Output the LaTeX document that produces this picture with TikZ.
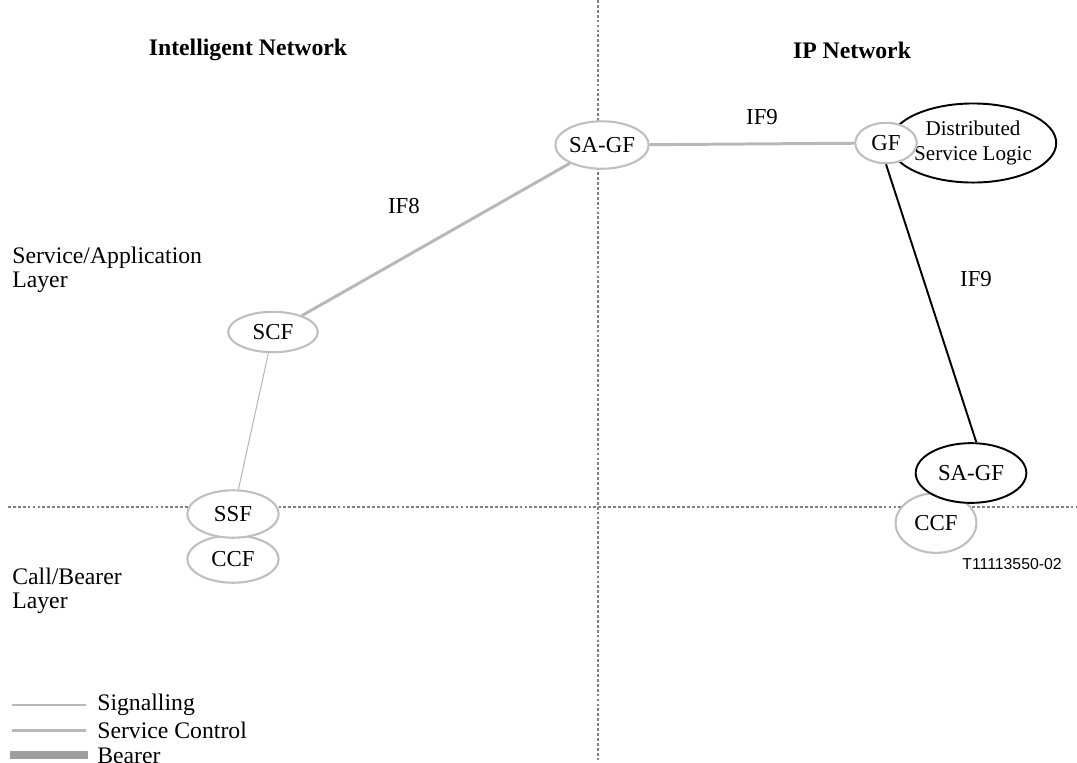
\documentclass[tikz,border=0pt]{standalone}
\usepackage{fontspec}
\setmainfont{Liberation Serif}
\newfontfamily\arialfont{Liberation Sans}
\usetikzlibrary{shapes.geometric}

\tikzset{
  fn/.style={ellipse, draw=black!25, line width=1.2pt, fill=white, inner sep=0pt,
    font=\fontsize{13}{14}\selectfont},
  fnblack/.style={fn, draw=black, line width=1.1pt},
  signalling/.style={draw=black!28, line width=0.6pt},
  servicectrl/.style={draw=black!28, line width=1.7pt},
  bearer/.style={draw=black!38, line width=4.5pt},
  border/.style={draw=black!50, line width=0.8pt, dash pattern=on 1.6pt off 1.2pt},
  lbl/.style={font=\fontsize{13.5}{14}\selectfont, align=left, anchor=west, inner sep=0pt},
  ttl/.style={font=\fontsize{13.5}{14}\selectfont\bfseries, inner sep=0pt},
}

\begin{document}
\begin{tikzpicture}[x=0.02cm, y=-0.02cm]
  \useasboundingbox (0,0) rectangle (1077,762);

  % Grenzen zwischen den Netzen und Schichten
  \draw[border] (598,0) -- (598,762);
  \draw[border] (8,507) -- (1077,507);

  % Ueberschriften
  \node[ttl] (tin) at (248,50) {Intelligent Network};
  \node[ttl] (tip) at (852,50) {IP Network};
  \node[lbl] (lsa) at (12,270) {Service/Application\\Layer};
  \node[lbl] (lcb) at (12,591) {Call/Bearer\\Layer};

  % Funktionen im IN
  \node[fn, minimum width=52pt, minimum height=27pt] (ccfl) at (233,559) {CCF};
  \node[fn, minimum width=52pt, minimum height=27pt] (ssf) at (233,514) {SSF};
  \node[fn, minimum width=51pt, minimum height=23pt] (scf) at (273,332) {SCF};
  \node[fn, minimum width=51pt, minimum height=27pt] (sagf) at (602,145) {SA-GF};

  % Funktionen im IP-Netz
  \node[fnblack, minimum width=83pt, minimum height=45pt, align=center,
    font=\fontsize{12}{14}\selectfont] (dsl) at (973,143) {Distributed\\Service Logic};
  \node[fn, minimum width=35pt, minimum height=23pt] (gf) at (886,143) {GF};
  \node[fn, minimum width=46pt, minimum height=34pt] (ccfr) at (936,523) {CCF};
  \node[fnblack, minimum width=63pt, minimum height=34pt] (sagfr) at (971,473) {SA-GF};

  % Verbindungen
  \draw[signalling] (scf) -- (ssf);
  \draw[servicectrl] (sagf) -- (scf);
  \draw[servicectrl] (sagf) -- (gf);
  \draw[black, line width=1.1pt] (gf.south) -- ([xshift=3pt]sagfr.north);

  \node[font=\fontsize{13}{14}\selectfont] (if8) at (404,206) {IF8};
  \node[font=\fontsize{13}{14}\selectfont] (if9a) at (762,117) {IF9};
  \node[font=\fontsize{13}{14}\selectfont] (if9b) at (976,279) {IF9};

  \node[font=\arialfont\fontsize{9}{10}\selectfont, anchor=west, inner sep=0pt] (tnum) at (962,564) {T11113550-02};

  % Legende
  \coordinate (sg1) at (12,705);  \coordinate (sg2) at (86,705);
  \coordinate (sc1) at (12,730);  \coordinate (sc2) at (86,730);
  \coordinate (br1) at (10,755);  \coordinate (br2) at (88,755);
  \draw[signalling] (sg1) -- (sg2);
  \draw[servicectrl] (sc1) -- (sc2);
  \draw[bearer] (br1) -- (br2);
  \node[lbl] (tsg) at (97,705) {Signalling};
  \node[lbl] (tsc) at (97,730) {Service Control};
  \node[lbl] (tbr) at (97,756) {Bearer};
\end{tikzpicture}
\end{document}
